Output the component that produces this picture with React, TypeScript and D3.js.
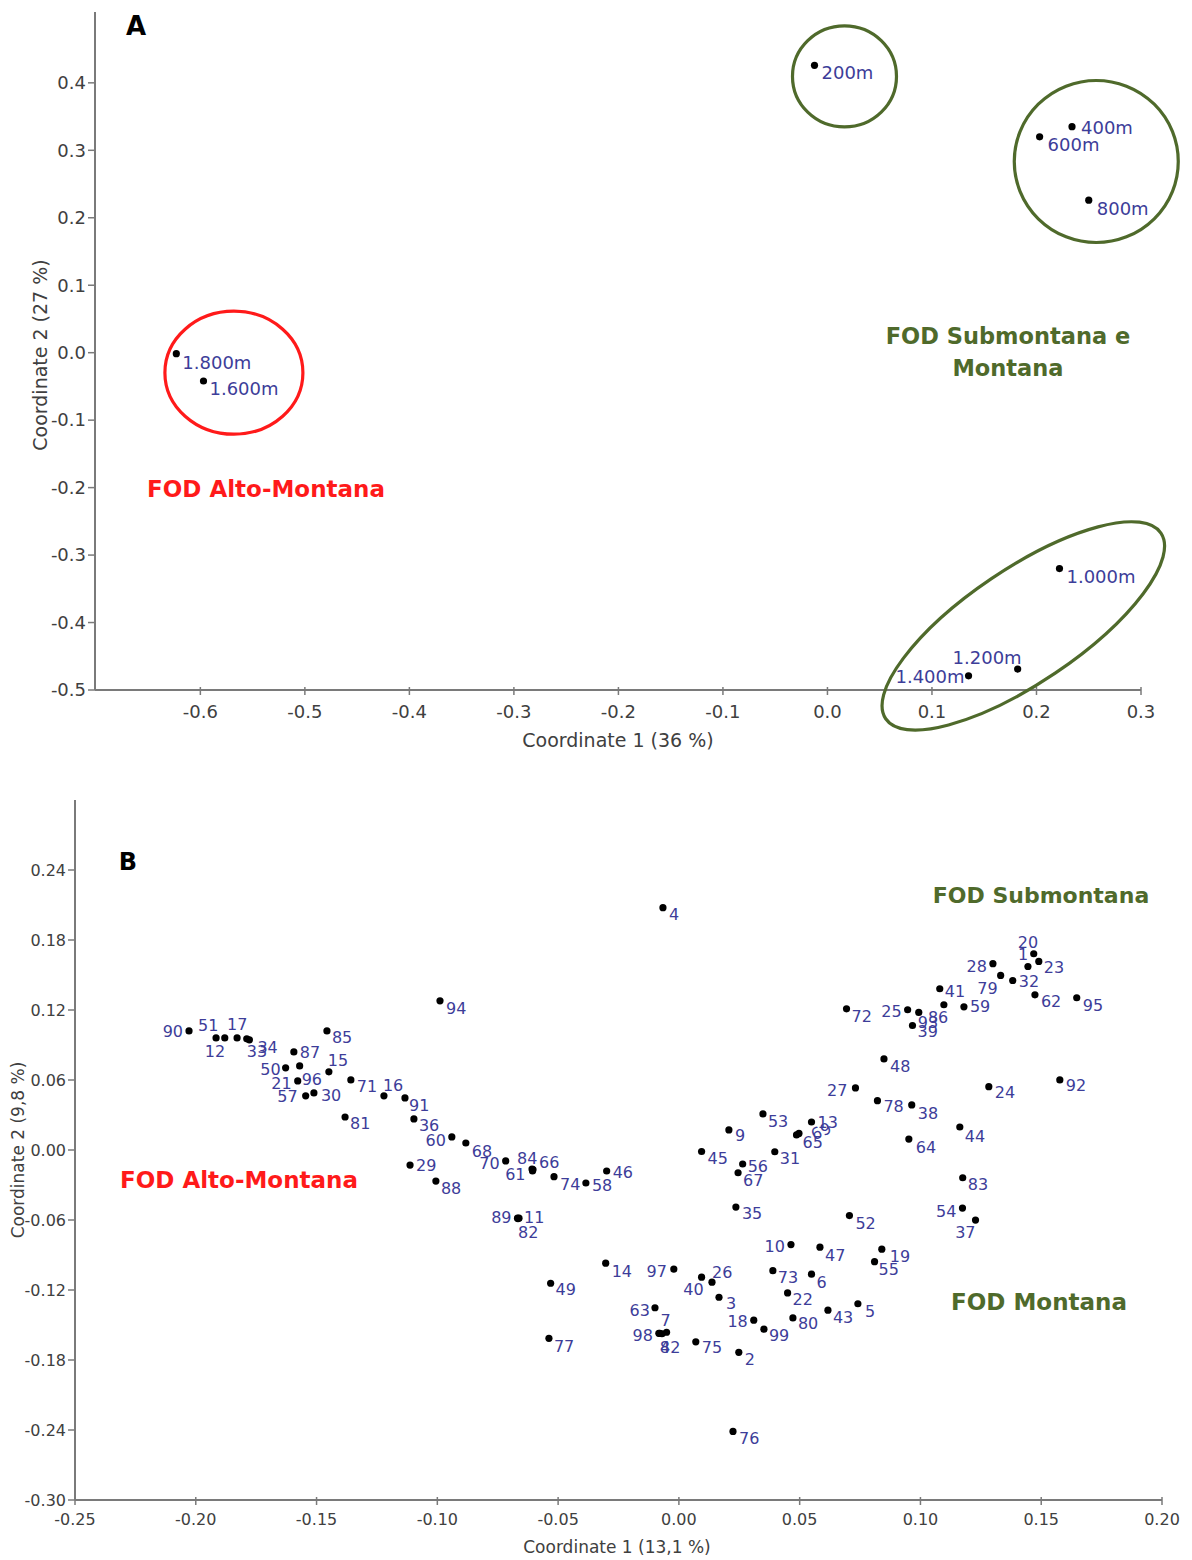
import React, { useEffect } from "react";
import * as d3 from "d3";

// ---------- Panel A: altitude stations ----------
const stationNames = ["200m", "400m", "600m", "800m", "1.000m", "1.200m", "1.400m", "1.600m", "1.800m"];
const stationCoord1 = [-0.0124, 0.234, 0.203, 0.25, 0.222, 0.182, 0.135, -0.597, -0.623];
const stationCoord2 = [0.426, 0.335, 0.32, 0.226, -0.32, -0.469, -0.479, -0.042, -0.0015];

const ticksA1 = [-0.6, -0.5, -0.4, -0.3, -0.2, -0.1, 0.0, 0.1, 0.2, 0.3];
const ticksA2 = [-0.5, -0.4, -0.3, -0.2, -0.1, 0.0, 0.1, 0.2, 0.3, 0.4];

// ---------- Panel B: plots 1..99 ----------
const plotIds = d3.range(1, 100).map(String);
const plotCoord1 = [
  0.1445, 0.0248, 0.0166, -0.0066, 0.0741, 0.0549, -0.0051, -0.0079, 0.0207, 0.0464,
  -0.0662, -0.188, 0.0549, -0.0303, -0.1449, -0.1221, -0.1829, 0.031, 0.084, 0.1469,
  -0.1578, 0.045, 0.149, 0.1283, 0.0947, 0.0137, 0.0731, 0.13, -0.1113, -0.1511,
  0.0397, 0.1382, -0.1789, -0.1778, 0.0236, -0.1097, 0.1228, 0.0964, 0.0967, 0.0094,
  0.108, -0.007, 0.0617, 0.1163, 0.0094, -0.0299, 0.0584, 0.0849, -0.0531, -0.1628,
  -0.1916, 0.0706, 0.0348, 0.1174, 0.081, 0.0264, -0.1545, -0.0385, 0.118, -0.094,
  -0.0606, 0.1474, -0.0099, 0.0952, 0.0487, -0.0604, 0.0245, -0.0882, 0.0497, -0.0717,
  -0.1358, 0.0694, 0.0389, -0.0517, 0.007, 0.0224, -0.0538, 0.0822, 0.1332, 0.0472,
  -0.1382, -0.0666, 0.1175, -0.0608, -0.1457, 0.1097, -0.1594, -0.1006, -0.0668, -0.2028,
  -0.1134, 0.1577, 0.0993, -0.0989, 0.1647, -0.157, -0.0021, -0.0083, 0.0352,
];
const plotCoord2 = [
  0.1573, -0.1734, -0.1262, 0.2077, -0.1318, -0.1064, -0.1562, -0.1571, 0.0172, -0.0811,
  -0.0584, 0.0961, 0.024, -0.097, 0.067, 0.0464, 0.0961, -0.1459, -0.085, 0.1682,
  0.0592, -0.1225, 0.1616, 0.0543, 0.1202, -0.1133, 0.0532, 0.1597, -0.0129, 0.0489,
  -0.0015, 0.1453, 0.0953, 0.0944, -0.0489, 0.0266, -0.0601, 0.0386, 0.1067, -0.109,
  0.1382, -0.1575, -0.1373, 0.0197, -0.0013, -0.018, -0.0833, 0.0781, -0.1142, 0.0704,
  0.0961, -0.0562, 0.0309, -0.0498, -0.0957, -0.012, 0.0464, -0.0283, 0.1227, 0.0112,
  -0.018, 0.133, -0.1352, 0.0094, 0.0129, -0.0167, -0.0195, 0.006, 0.0142, -0.0094,
  0.0601, 0.121, -0.1034, -0.0229, -0.1644, -0.2412, -0.1614, 0.0423, 0.1496, -0.1439,
  0.0283, -0.0588, -0.0238, -0.0163, 0.1021, 0.1245, 0.0841, -0.0266, -0.0584, 0.1021,
  0.0446, 0.0601, 0.1179, 0.1279, 0.1305, 0.0721, -0.1021, -0.1571, -0.1536,
];

const ticksB1 = [-0.25, -0.2, -0.15, -0.1, -0.05, 0.0, 0.05, 0.1, 0.15, 0.2];
const ticksB2 = [-0.3, -0.24, -0.18, -0.12, -0.06, 0.0, 0.06, 0.12, 0.18, 0.24];

// ---------- label placement (pixel offsets from the dot) ----------
type Place = [number, number, ("start" | "end")?, number?];
const defaultPlace: Place = [6, 7];
const stationPlace: Record<string, Place> = {
  "200m": [7, 7],
  "400m": [9, 1],
  "600m": [8, 8],
  "800m": [8, 8],
  "1.000m": [7, 8],
  "1.200m": [4, -11, "end"],
  "1.400m": [-4, 1, "end"],
  "1.600m": [6, 8],
  "1.800m": [6, 9],
};
const plotPlace: Record<string, Place> = {
  "90": [-6, 1, "end"], "51": [-18, -12], "12": [-20, 14], "17": [-10, -13],
  "33": [0, 13], "34": [8, 8], "87": [6, 1], "85": [5, 7], "50": [-5, 2, "end"],
  "21": [-6, 2, "end"], "96": [2, 14], "57": [-8, 1, "end"], "30": [7, 2],
  "15": [-1, -11], "71": [6, 7], "16": [-1, -10], "91": [4, 7], "81": [5, 6],
  "36": [5, 6], "60": [-6, 3, "end"], "68": [6, 8], "29": [6, 0], "88": [5, 7],
  "94": [6, 8], "70": [-6, 2, "end"], "84": [-15, -11], "61": [-7, 3, "end"],
  "66": [6, -7], "74": [6, 8], "58": [6, 2], "46": [6, 1], "89": [-6, -1, "end"],
  "11": [5, -1], "82": [0, 14], "14": [6, 8], "97": [-7, 2, "end"], "49": [5, 6],
  "40": [2, 12, "end"], "26": [0, -10], "3": [7, 6], "63": [-5, 3, "end"],
  "7": [-6, -12], "98": [-6, 2, "end"], "8": [0, 14], "42": [-2, 14], "75": [6, 6],
  "2": [6, 7], "77": [5, 8], "18": [-6, 1, "end"], "99": [5, 6], "10": [-6, 2, "end"],
  "47": [5, 8], "73": [5, 7], "6": [5, 8], "22": [5, 6], "43": [5, 7], "5": [7, 8],
  "80": [5, 6], "19": [8, 7], "55": [4, 8], "52": [6, 8], "54": [-6, 3, "end"],
  "37": [0, 12, "end"], "9": [6, 5], "53": [5, 7], "45": [6, 7], "56": [5, 2],
  "67": [5, 8], "31": [5, 7], "35": [6, 6], "13": [6, 0], "65": [6, 7],
  "69": [13, 2, "start", -25], "64": [7, 8], "44": [5, 9], "83": [5, 7], "24": [6, 6],
  "92": [6, 6], "27": [-8, 2, "end"], "78": [6, 6], "38": [6, 8], "48": [6, 8],
  "72": [5, 8], "25": [-6, 2, "end"], "86": [-16, 13], "93": [-1, 10], "39": [5, 6],
  "41": [5, 3], "59": [6, 0], "28": [-6, 3, "end"], "79": [-3, 13, "end"], "32": [6, 1],
  "62": [6, 7], "95": [6, 8], "20": [-16, -11], "1": [-10, -12], "23": [5, 6],
  "4": [6, 7], "76": [6, 7],
};

const W = 1192;
const H = 1560;
const LABEL_BLUE = "#3d3d99";
const OLIVE = "#4f6a2b";
const RED = "#ff1a1a";
const AXIS_GREY = "#7a7a7a";
const TICK_TEXT = "#404040";
const FONT = "'DejaVu Sans', sans-serif";

const fmt = (digits: number) => (v: number) => (Math.abs(v) < 1e-9 ? (0).toFixed(digits) : v.toFixed(digits));

type Scale = d3.ScaleLinear<number, number>;

function AxisBottom({ x, y, ticks, f, fontSize, labelGap }: { x: Scale; y: number; ticks: number[]; f: (v: number) => string; fontSize: number; labelGap: number }) {
  const [r0, r1] = x.range();
  return (
    <g>
      <line x1={r0} x2={r1} y1={y} y2={y} stroke={AXIS_GREY} strokeWidth={2} />
      {ticks.map((t) => (
        <g key={t}>
          <line x1={x(t)} x2={x(t)} y1={y - 3} y2={y + 5} stroke={AXIS_GREY} strokeWidth={1.5} />
          <text x={x(t)} y={y + labelGap} textAnchor="middle" dy="0.35em" fontSize={fontSize} fill={TICK_TEXT}>
            {f(t)}
          </text>
        </g>
      ))}
    </g>
  );
}

function AxisLeft({ yS, x, ticks, f, fontSize }: { yS: Scale; x: number; ticks: number[]; f: (v: number) => string; fontSize: number }) {
  const [r0, r1] = yS.range();
  return (
    <g>
      <line x1={x} x2={x} y1={r0} y2={r1} stroke={AXIS_GREY} strokeWidth={2} />
      {ticks.map((t) => (
        <g key={t}>
          <line x1={x - 7} x2={x} y1={yS(t)} y2={yS(t)} stroke={AXIS_GREY} strokeWidth={1.5} />
          <text x={x - 9} y={yS(t)} textAnchor="end" dy="0.35em" fontSize={fontSize} fill={TICK_TEXT}>
            {f(t)}
          </text>
        </g>
      ))}
    </g>
  );
}

function PointLabels({ names, xs, ys, xS, yS, place, fontSize }: { names: string[]; xs: number[]; ys: number[]; xS: Scale; yS: Scale; place: Record<string, Place>; fontSize: number }) {
  return (
    <g>
      {names.map((n, i) => {
        const cx = xS(xs[i]);
        const cy = yS(ys[i]);
        const [dx, dy, anchor, rot] = place[n] ?? defaultPlace;
        const tx = cx + dx;
        const ty = cy + dy;
        return (
          <text
            key={"l" + n}
            x={tx}
            y={ty}
            dy="0.35em"
            textAnchor={anchor ?? "start"}
            fontSize={fontSize}
            fill={LABEL_BLUE}
            transform={rot ? `rotate(${rot} ${tx} ${ty})` : undefined}
          >
            {n}
          </text>
        );
      })}
      {names.map((n, i) => (
        <circle key={"p" + n} cx={xS(xs[i])} cy={yS(ys[i])} r={3.6} fill="#000" />
      ))}
    </g>
  );
}

export default function App() {
  useEffect(() => {
    document.body.style.margin = "0";
  }, []);

  // Panel A scales
  const xA = d3.scaleLinear().domain([-0.7008, 0.3]).range([95, 1141]);
  const yA = d3.scaleLinear().domain([-0.5, 0.505]).range([690, 12]);
  // Panel B scales
  const xB = d3.scaleLinear().domain([-0.25, 0.2]).range([75, 1162]);
  const yB = d3.scaleLinear().domain([-0.3, 0.3]).range([1500, 800]);

  // group rings in panel A (centre in data units, radii in px)
  const ringsA = [
    { cx: -0.5679, cy: -0.0297, rx: 69, ry: 61.5, rot: 0, color: RED },
    { cx: 0.0163, cy: 0.4095, rx: 52, ry: 50.5, rot: 0, color: OLIVE },
    { cx: 0.2572, cy: 0.2834, rx: 82, ry: 81, rot: 0, color: OLIVE },
    { cx: 0.1874, cy: -0.405, rx: 166, ry: 57, rot: -34, color: OLIVE },
  ];

  return (
    <svg width={W} height={H} viewBox={`0 0 ${W} ${H}`} style={{ display: "block", background: "#fff" }} fontFamily={FONT}>
      <rect width={W} height={H} fill="#fff" />

      {/* ---------------- Panel A ---------------- */}
      <g>
        <AxisLeft yS={yA} x={95} ticks={ticksA2} f={fmt(1)} fontSize={18} />
        <AxisBottom x={xA} y={690} ticks={ticksA1} f={fmt(1)} fontSize={18} labelGap={22} />
        <text x={618} y={740} textAnchor="middle" dy="0.35em" fontSize={19} fill={TICK_TEXT}>
          Coordinate 1 (36 %)
        </text>
        <text transform="translate(40,355) rotate(-90)" textAnchor="middle" dy="0.35em" fontSize={19} fill={TICK_TEXT}>
          Coordinate 2 (27 %)
        </text>
        <text x={136} y={26} textAnchor="middle" dy="0.35em" fontSize={26} fontWeight="bold" fill="#000">
          A
        </text>

        {ringsA.map((r, i) => {
          const cx = xA(r.cx);
          const cy = yA(r.cy);
          return (
            <ellipse
              key={i}
              cx={cx}
              cy={cy}
              rx={r.rx}
              ry={r.ry}
              fill="none"
              stroke={r.color}
              strokeWidth={3.2}
              transform={r.rot ? `rotate(${r.rot} ${cx} ${cy})` : undefined}
            />
          );
        })}

        <PointLabels names={stationNames} xs={stationCoord1} ys={stationCoord2} xS={xA} yS={yA} place={stationPlace} fontSize={18} />

        <text x={266} y={489} textAnchor="middle" dy="0.35em" fontSize={23} fontWeight="bold" fill={RED}>
          FOD Alto-Montana
        </text>
        <text x={1008} y={336} textAnchor="middle" dy="0.35em" fontSize={22.5} fontWeight="bold" fill={OLIVE}>
          FOD Submontana e
        </text>
        <text x={1008} y={368} textAnchor="middle" dy="0.35em" fontSize={22.5} fontWeight="bold" fill={OLIVE}>
          Montana
        </text>
      </g>

      {/* ---------------- Panel B ---------------- */}
      <g>
        <AxisLeft yS={yB} x={75} ticks={ticksB2} f={fmt(2)} fontSize={16} />
        <AxisBottom x={xB} y={1500} ticks={ticksB1} f={fmt(2)} fontSize={16} labelGap={19} />
        <text x={617} y={1547} textAnchor="middle" dy="0.35em" fontSize={17} fill={TICK_TEXT}>
          Coordinate 1 (13,1 %)
        </text>
        <text transform="translate(18,1150) rotate(-90)" textAnchor="middle" dy="0.35em" fontSize={17} fill={TICK_TEXT}>
          Coordinate 2 (9,8 %)
        </text>
        <text x={128} y={862} textAnchor="middle" dy="0.35em" fontSize={24} fontWeight="bold" fill="#000">
          B
        </text>

        <PointLabels names={plotIds} xs={plotCoord1} ys={plotCoord2} xS={xB} yS={yB} place={plotPlace} fontSize={16} />

        <text x={1041} y={895} textAnchor="middle" dy="0.35em" fontSize={22} fontWeight="bold" fill={OLIVE}>
          FOD Submontana
        </text>
        <text x={239} y={1180} textAnchor="middle" dy="0.35em" fontSize={23} fontWeight="bold" fill={RED}>
          FOD Alto-Montana
        </text>
        <text x={1039} y={1302} textAnchor="middle" dy="0.35em" fontSize={23} fontWeight="bold" fill={OLIVE}>
          FOD Montana
        </text>
      </g>
    </svg>
  );
}
